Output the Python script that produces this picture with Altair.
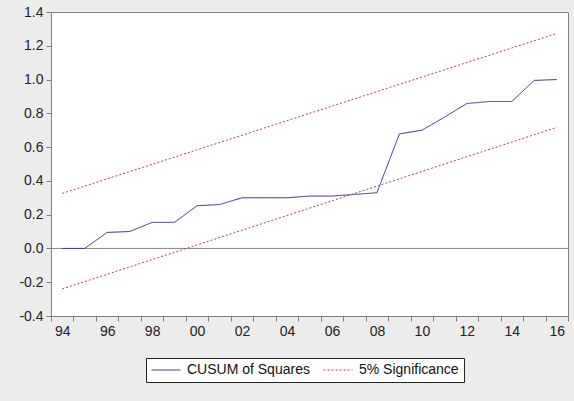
import altair as alt
import pandas as pd

# ---- data ----
years = list(range(1994, 2017))
cusum = [0.0, 0.0, 0.095, 0.10, 0.154, 0.155, 0.253, 0.26, 0.30, 0.30,
         0.30, 0.31, 0.31, 0.32, 0.33, 0.678, 0.70, 0.777, 0.858, 0.87,
         0.87, 0.995, 1.0]
sig_years = [1994, 2016]
sig_upper = [0.326, 1.273]
sig_lower = [-0.24, 0.717]

series_names = ["CUSUM of Squares", "5% Significance"]
x_tick_values = [1993.5 + i for i in range(24)]
x_label_values = [1993.5 + 2 * i for i in range(12)]
x_labels = ["94", "96", "98", "00", "02", "04", "06", "08", "10", "12", "14", "16"]
y_ticks = [-0.4, -0.2, 0.0, 0.2, 0.4, 0.6, 0.8, 1.0, 1.2, 1.4]
y_labels = ["-0.4", "-0.2", "0.0", "0.2", "0.4", "0.6", "0.8", "1.0", "1.2", "1.4"]

# ---- layout ----
W, H = 517, 304
year_px = W / 23.0
FONT = "Liberation Sans"

rows = []
for yr, v in zip(years, cusum):
    rows.append({"year": yr, "value": v, "series": series_names[0], "line": "cusum"})
for yr, v in zip(sig_years, sig_upper):
    rows.append({"year": yr, "value": v, "series": series_names[1], "line": "upper"})
for yr, v in zip(sig_years, sig_lower):
    rows.append({"year": yr, "value": v, "series": series_names[1], "line": "lower"})
df = pd.DataFrame(rows)

x_label_expr = " : ".join(
    f"abs(datum.value - {p}) < 0.01 ? '{l}'" for p, l in zip(x_label_values, x_labels)
) + " : ''"
y_label_expr = " : ".join(
    f"abs(datum.value - ({p})) < 0.01 ? '{l}'" for p, l in zip(y_ticks, y_labels)
) + " : ''"

legend = alt.Legend(
    orient="none", legendX=95, legendY=346, direction="horizontal", title=None,
    symbolType="stroke", symbolSize=841, symbolStrokeWidth=1,
    labelFont=FONT, labelFontSize=14, labelColor="#111", labelOffset=6,
    columnPadding=13, padding=5, strokeColor="#222", fillColor="white",
    cornerRadius=0, clipHeight=14,
)

x_enc = alt.X(
    "year:Q",
    scale=alt.Scale(domain=[1993.5, 2016.5], nice=False, zero=False),
    axis=alt.Axis(values=x_tick_values, labelExpr=x_label_expr, labelOffset=year_px / 2,
                  labelFlush=False, labelOverlap=False, title=None, grid=False,
                  tickSize=5, labelPadding=3),
)
y_enc = alt.Y(
    "value:Q",
    scale=alt.Scale(domain=[-0.4, 1.4], nice=False, zero=False),
    axis=alt.Axis(values=y_ticks, labelExpr=y_label_expr,
                  title=None, grid=False, tickSize=5, labelPadding=3, labelFlush=False,
                  labelOverlap=False),
)

zero = alt.Chart(pd.DataFrame({"value": [0.0]})).mark_rule(color="#8a8a8a", strokeWidth=1).encode(
    y=y_enc
)

lines = alt.Chart(df).mark_line(strokeWidth=1).encode(
    x=x_enc,
    y=y_enc,
    color=alt.Color("series:N", scale=alt.Scale(domain=series_names, range=["#2e3190", "#c8383c"]),
                    legend=legend),
    strokeDash=alt.StrokeDash("series:N", scale=alt.Scale(domain=series_names, range=[[1, 0], [2, 2]]),
                              legend=legend),
    detail="line:N",
)

chart = alt.layer(zero, lines).properties(
    width=W, height=H,
    background="#ececec",
    padding={"left": 51, "top": 12, "right": 6, "bottom": 85},
    autosize=alt.AutoSizeParams(type="none"),
).configure_view(
    fill="white", stroke="#808080", strokeWidth=1
).configure_axis(
    labelFont=FONT, labelFontSize=14, labelColor="#222",
    domainColor="#808080", tickColor="#808080",
)

chart.save("out.html", embed_options={"renderer": "svg", "actions": False})
